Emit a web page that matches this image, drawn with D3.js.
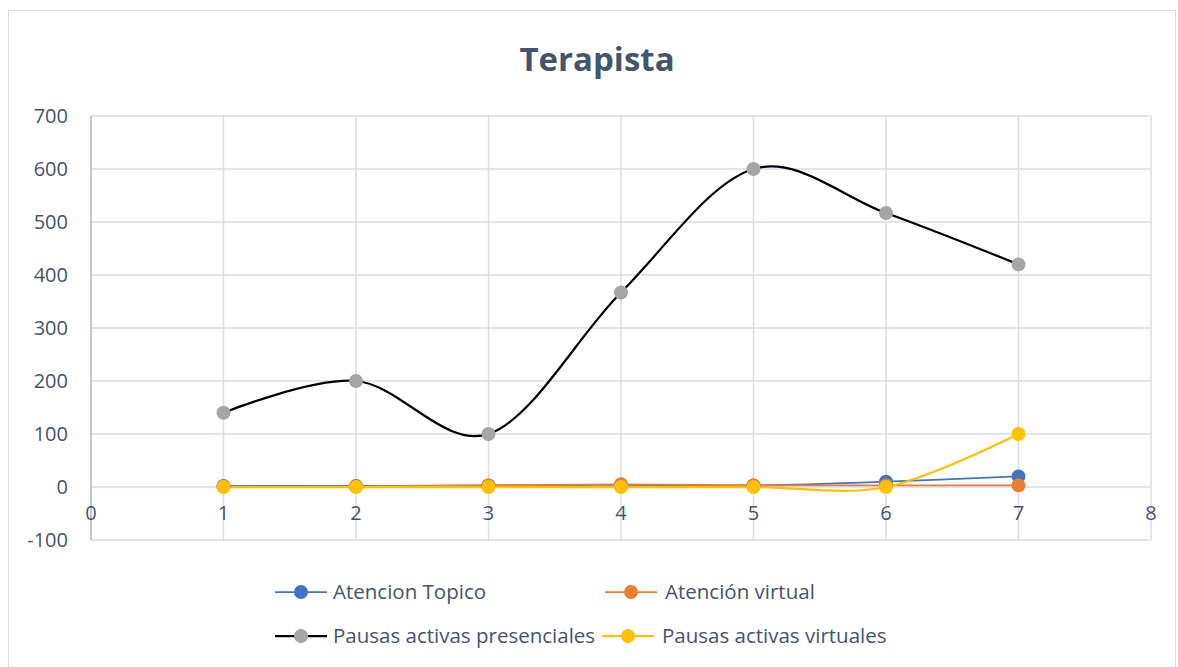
<!DOCTYPE html>
<html>
<head>
<meta charset="utf-8">
<script src="https://cdn.jsdelivr.net/npm/d3@7"></script>
<style>
  body { margin: 0; background: #fff; }
  svg text { font-family: "Open Sans", Lato, sans-serif; }
</style>
</head>
<body>
<svg id="svg" width="1178" height="667"></svg>
<script>
let width = 1178;
let height = 667;

// data
let xValues = [1, 2, 3, 4, 5, 6, 7];
let atencionTopico = [2, 2, 3, 4, 3, 10, 20];
let atencionVirtual = [1, 1, 3, 5, 3, 3, 3];
let pausasPresenciales = [140, 200, 100, 367, 600, 517, 420];
let pausasVirtuales = [0, 0, 0, 0, 0, 0, 100];
let yTicks = [-100, 0, 100, 200, 300, 400, 500, 600, 700];
let xTicks = [0, 1, 2, 3, 4, 5, 6, 7, 8];

let series = [
    { name: "Atencion Topico", values: atencionTopico, line: "#4472C4", marker: "#4472C4", lw: 1.75 },
    { name: "Atención virtual", values: atencionVirtual, line: "#ED7D31", marker: "#ED7D31", lw: 1.75 },
    { name: "Pausas activas presenciales", values: pausasPresenciales, line: "#000000", marker: "#A5A5A5", lw: 2.25 },
    { name: "Pausas activas virtuales", values: pausasVirtuales, line: "#FFC000", marker: "#FFC000", lw: 2.25 }
];

let svg = d3.select("#svg");

// chart border
svg.append("rect")
    .attr("x", 8.5).attr("y", 10.5)
    .attr("width", 1167).attr("height", 670)
    .attr("fill", "none")
    .attr("stroke", "#D9DEE6")
    .attr("stroke-width", 1);

let x = d3.scaleLinear().domain([0, 8]).range([91, 1151]);
let y = d3.scaleLinear().domain([-100, 700]).range([540, 116]);

let textColor = "#44546A";
let gridColor = "#D9DEE6";

// gridlines
svg.append("g")
    .selectAll("line")
    .data(yTicks)
    .enter()
    .append("line")
    .attr("x1", x(0)).attr("x2", x(8))
    .attr("y1", d => y(d)).attr("y2", d => y(d))
    .attr("stroke", gridColor)
    .attr("stroke-width", 1.5);

svg.append("g")
    .selectAll("line")
    .data(xTicks.slice(1))
    .enter()
    .append("line")
    .attr("x1", d => x(d)).attr("x2", d => x(d))
    .attr("y1", y(700)).attr("y2", y(-100))
    .attr("stroke", gridColor)
    .attr("stroke-width", 1.5);

// y axis line
svg.append("line")
    .attr("x1", x(0)).attr("x2", x(0))
    .attr("y1", y(700)).attr("y2", y(-100))
    .attr("stroke", "#ADB5C2")
    .attr("stroke-width", 1.5);

// y tick labels
svg.append("g")
    .selectAll("text")
    .data(yTicks)
    .enter()
    .append("text")
    .attr("x", 68)
    .attr("y", d => y(d))
    .attr("dy", "0.35em")
    .attr("text-anchor", "end")
    .attr("font-size", 20)
    .attr("fill", textColor)
    .text(d => d);

// x tick labels
svg.append("g")
    .selectAll("text")
    .data(xTicks)
    .enter()
    .append("text")
    .attr("x", d => x(d))
    .attr("y", y(0) + 33)
    .attr("text-anchor", "middle")
    .attr("font-size", 20)
    .attr("fill", textColor)
    .text(d => d);

// title
svg.append("text")
    .attr("x", 597)
    .attr("y", 71)
    .attr("text-anchor", "middle")
    .attr("font-size", 33)
    .attr("font-weight", "bold")
    .attr("fill", textColor)
    .text("Terapista");

let line = d3.line()
    .x((d, i) => x(xValues[i]))
    .y(d => y(d))
    .curve(d3.curveCardinal.tension(0));

series.forEach(s => {
    svg.append("path")
        .attr("d", line(s.values))
        .attr("fill", "none")
        .attr("stroke", s.line)
        .attr("stroke-width", s.lw);
});

series.forEach(s => {
    svg.append("g")
        .selectAll("circle")
        .data(s.values)
        .enter()
        .append("circle")
        .attr("cx", (d, i) => x(xValues[i]))
        .attr("cy", d => y(d))
        .attr("r", 7)
        .attr("fill", s.marker);
});

// legend
let legendPos = [[275, 592], [605, 592], [275, 636], [602, 636]];
series.forEach((s, i) => {
    let g = svg.append("g").attr("transform", `translate(${legendPos[i][0]},${legendPos[i][1]})`);
    g.append("line")
        .attr("x1", 0).attr("x2", 52)
        .attr("y1", 0).attr("y2", 0)
        .attr("stroke", s.line)
        .attr("stroke-width", s.lw);
    g.append("circle")
        .attr("cx", 26).attr("cy", 0).attr("r", 7)
        .attr("fill", s.marker);
    g.append("text")
        .attr("x", 58 + (i % 2 == 1 ? 2 : 0))
        .attr("y", 0)
        .attr("dy", "0.35em")
        .attr("font-size", 20.5)
        .attr("fill", textColor)
        .text(s.name);
});
</script>
</body>
</html>
